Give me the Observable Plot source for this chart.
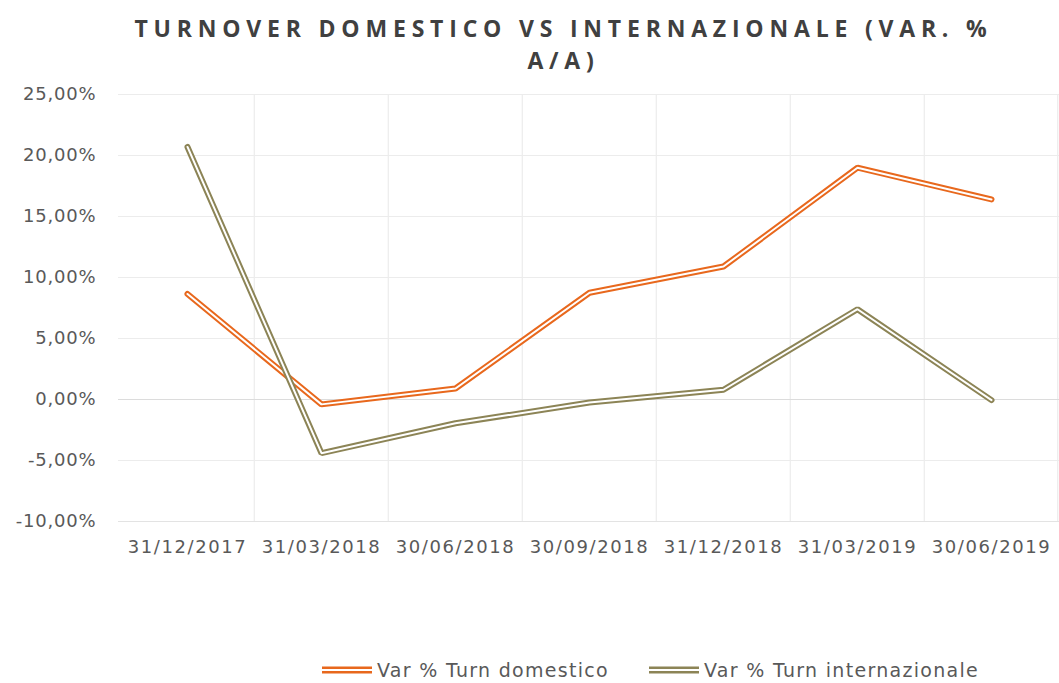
<!DOCTYPE html>
<html>
<head>
<meta charset="utf-8">
<script src="https://cdn.jsdelivr.net/npm/d3@7"></script>
<script src="https://cdn.jsdelivr.net/npm/@observablehq/plot@0.6"></script>
<style>
  body { margin: 0; background: #fff; width: 1059px; height: 683px; overflow: hidden; font-family: "DejaVu Sans", sans-serif; }
  #title { height: 80px; box-sizing: border-box; padding-top: 12px; text-align: center; font-family: "Open Sans", sans-serif; font-weight: 700; font-size: 23px; line-height: 32px; letter-spacing: 5.8px; color: #404040; padding-left: 68px; }
  #chart svg { display: block; }
  #chart g[aria-label="x-axis tick label"] text { letter-spacing: 1.6px; }
  #chart g[aria-label="y-axis tick label"] text { letter-spacing: 0.8px; }
  #legend { display: flex; align-items: center; position: absolute; top: 659px; left: 322px; font-size: 19px; letter-spacing: 1.3px; color: #595959; }
  .item { display: flex; align-items: center; margin-right: 40px; }
  .item svg { margin-right: 5px; }
</style>
</head>
<body>
<div id="title">TURNOVER DOMESTICO VS INTERNAZIONALE (VAR. %<br>A/A)</div>
<div id="chart"></div>
<div id="legend"></div>
<script>
const dates = ["31/12/2017", "31/03/2018", "30/06/2018", "30/09/2018", "31/12/2018", "31/03/2019", "30/06/2019"];
const domestico = [8.65, -0.4, 0.9, 8.75, 10.9, 19.0, 16.4];
const internazionale = [20.7, -4.4, -1.95, -0.25, 0.8, 7.4, -0.05];
const yTicks = [-10, -5, 0, 5, 10, 15, 20, 25];
const seriesNames = ["Var % Turn domestico", "Var % Turn internazionale"];
const seriesColors = ["#E8681D", "#8C8456"];

const rows = [];
dates.forEach((d, i) => {
  rows.push({date: d, value: domestico[i], series: seriesNames[0]});
  rows.push({date: d, value: internazionale[i], series: seriesNames[1]});
});

const W = 1059, ML = 118, MR = 0;
const step = (W - ML - MR) / dates.length;

const lineMarks = [];
seriesNames.forEach((s, k) => {
  const data = rows.filter(r => r.series === s);
  lineMarks.push(Plot.line(data, {x: "date", y: "value", stroke: seriesColors[k], strokeWidth: 6, strokeLinejoin: "miter"}));
  lineMarks.push(Plot.line(data, {x: "date", y: "value", stroke: "#ffffff", strokeWidth: 2, strokeLinejoin: "miter"}));
});

const chart = Plot.plot({
  width: W,
  height: 520,
  marginLeft: ML,
  marginRight: MR,
  marginTop: 14,
  marginBottom: 79,
  style: {fontSize: "18px", fontFamily: "DejaVu Sans, sans-serif", color: "#595959", background: "#fff"},
  x: {type: "point", domain: dates, padding: 0.5, tickSize: 0, tickPadding: 19, label: null},
  y: {domain: [-10, 25], ticks: yTicks, tickSize: 0, tickPadding: 22, label: null,
      tickFormat: d => d.toFixed(2).replace(".", ",") + "%"},
  marks: [
    Plot.ruleY(yTicks.filter(t => t !== 0 && t !== -10), {stroke: "#ececec", strokeWidth: 1.2}),
    Plot.ruleX(dates.slice(1), {x: d => d, dx: -step / 2, stroke: "#ececec", strokeWidth: 1.2}),
    Plot.ruleX(dates.slice(-1), {x: d => d, dx: step / 2 - 1, stroke: "#ececec", strokeWidth: 1.2}),
    Plot.ruleY([-10], {stroke: "#e3e3e3", strokeWidth: 1.2}),
    Plot.ruleY([0], {stroke: "#dcdcdc", strokeWidth: 1.2}),
    ...lineMarks
  ]
});
document.getElementById("chart").appendChild(chart);

const legend = document.getElementById("legend");
seriesNames.forEach((s, k) => {
  const item = document.createElement("div");
  item.className = "item";
  item.innerHTML = `<svg width="50" height="12"><line x1="0" x2="50" y1="6" y2="6" stroke="${seriesColors[k]}" stroke-width="7"/><line x1="0" x2="50" y1="6" y2="6" stroke="#fff" stroke-width="2"/></svg><span>${s}</span>`;
  legend.appendChild(item);
});
</script>
</body>
</html>
